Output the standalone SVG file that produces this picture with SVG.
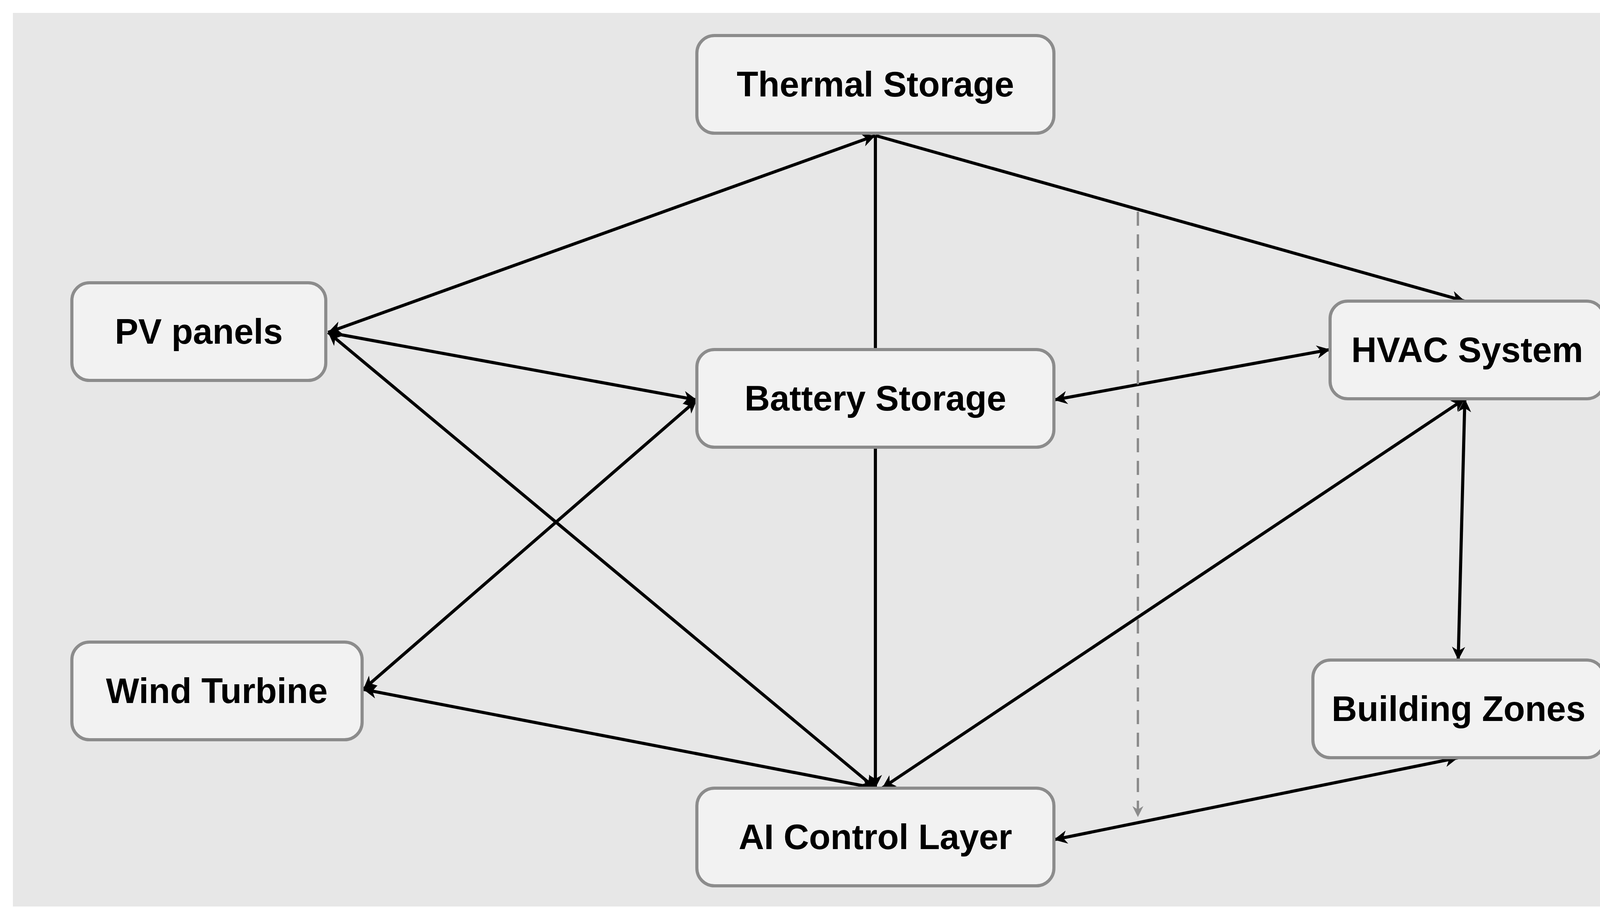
<svg xmlns="http://www.w3.org/2000/svg" width="4317" height="2353" viewBox="0 0 4317 2353">
<style>
.n rect{fill:#f2f2f2;stroke:#8c8c8c;stroke-width:8}
.n text{font-family:"Liberation Sans",Arial,sans-serif;font-weight:bold;font-size:90px;fill:#000;text-anchor:middle;dominant-baseline:central}
.e line{stroke:#000;stroke-width:8;fill:none}
.e line.a{marker-end:url(#ah)}
.e line.b{marker-start:url(#as);marker-end:url(#ah)}
.e line.d{stroke:#8c8c8c;stroke-width:6;stroke-dasharray:36 22;marker-end:url(#ag)}
</style>
<defs>
<marker id="ah" markerUnits="userSpaceOnUse" viewBox="0 0 10 10" refX="10" refY="5" markerWidth="40" markerHeight="34" orient="auto"><path d="M0,0 L10,5 L0,10 L3,5 Z" fill="#000"/></marker>
<marker id="as" markerUnits="userSpaceOnUse" viewBox="0 0 10 10" refX="0" refY="5" markerWidth="40" markerHeight="34" orient="auto"><path d="M10,0 L0,5 L10,10 L7,5 Z" fill="#000"/></marker>
<marker id="ag" markerUnits="userSpaceOnUse" viewBox="0 0 10 10" refX="10" refY="5" markerWidth="32" markerHeight="28" orient="auto"><path d="M0,0 L10,5 L0,10 L3,5 Z" fill="#8c8c8c"/></marker>
</defs>
<rect x="0" y="0" width="4317" height="2353" fill="#fff"/>
<rect x="33" y="33" width="4251" height="2288" fill="#e7e7e7"/>
<g id="connectors" class="e">
<line class="b" x1="840" y1="851" x2="2241" y2="347"/>
<line class="a" x1="2241" y1="347" x2="3750" y2="771"/>
<line x1="2241" y1="895" x2="2241" y2="347"/>
<line class="a" x1="840" y1="851" x2="1784" y2="1024"/>
<line class="b" x1="840" y1="851" x2="2241" y2="2018"/>
<line class="b" x1="930" y1="1765" x2="1784" y2="1024"/>
<line class="b" x1="930" y1="1765" x2="2241" y2="2018"/>
<line class="a" x1="2241" y1="1145" x2="2241" y2="2018"/>
<line class="b" x1="2258" y1="2018" x2="3750" y2="1021"/>
<line class="b" x1="2698" y1="1024" x2="3405" y2="895"/>
<line class="b" x1="3750" y1="1021" x2="3733" y2="1690"/>
<line class="b" x1="2698" y1="2150" x2="3733" y2="1940"/>
<line class="d" x1="2913" y1="542" x2="2913" y2="2092"/>
</g>
<g id="thermal" class="n"><rect x="1784" y="91" width="914" height="250" rx="45"/><text x="2241" y="216">Thermal Storage</text></g>
<g id="pv" class="n"><rect x="184" y="724" width="650" height="250" rx="45"/><text x="509" y="849">PV panels</text></g>
<g id="battery" class="n"><rect x="1784" y="895" width="914" height="250" rx="45"/><text x="2241" y="1020">Battery Storage</text></g>
<g id="hvac" class="n"><rect x="3405" y="771" width="702" height="250" rx="45"/><text x="3756" y="896">HVAC System</text></g>
<g id="wind" class="n"><rect x="184" y="1644" width="743" height="250" rx="45"/><text x="555" y="1769">Wind Turbine</text></g>
<g id="building" class="n"><rect x="3361" y="1690" width="746" height="250" rx="45"/><text x="3734" y="1815">Building Zones</text></g>
<g id="ai" class="n"><rect x="1784" y="2018" width="914" height="250" rx="45"/><text x="2241" y="2143">AI Control Layer</text></g>
</svg>
